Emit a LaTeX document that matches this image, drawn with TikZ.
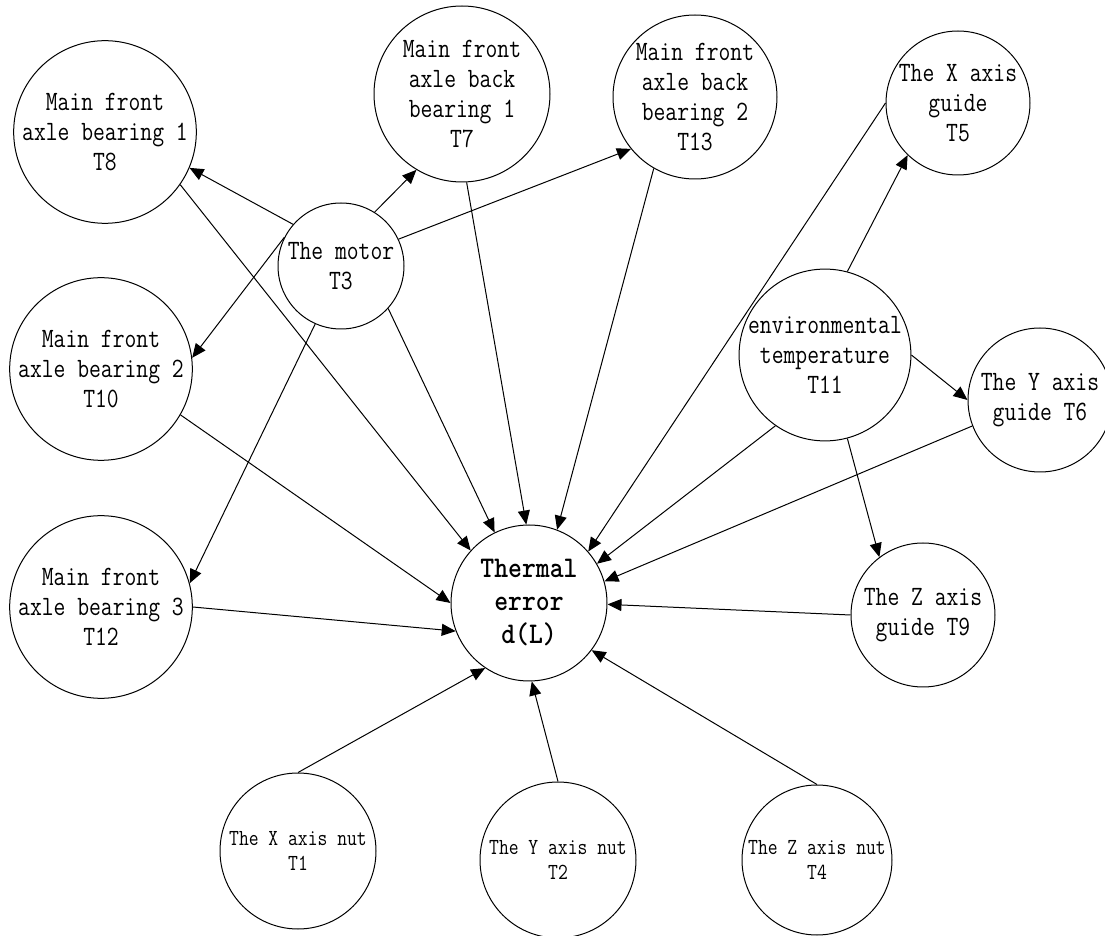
\documentclass[tikz,border=0pt]{standalone}
\usepackage{fontspec}
\usetikzlibrary{arrows.meta}
\newfontfamily\simfont{Latin Modern Mono}[FakeStretch=0.82]
\newfontfamily\simsmall{Latin Modern Mono}[FakeStretch=0.83]
\newfontfamily\simbold{Latin Modern Mono Light}[FakeStretch=0.88]

\begin{document}
\begin{tikzpicture}[x=0.5pt,y=-0.5pt,
          sensor/.style={draw,circle,inner sep=0pt,align=center,line width=0.5pt,
            font=\simfont\fontsize{14}{15}\selectfont},
          nut/.style={sensor,font=\simsmall\fontsize{11.5}{12.5}\selectfont},
          link/.style={line width=0.5pt,-{Triangle[length=7pt,width=6pt]}}]
          \useasboundingbox (0,0) rectangle (1105,936);
          % sources
          \node[sensor,minimum size=90pt] (T8) at (105,132) {Main front\\axle bearing 1\\T8};
          \node[sensor,minimum size=88pt] (T7) at (462,94) {Main front\\axle back\\bearing 1\\T7};
          \node[sensor,minimum size=82pt] (T13) at (695,97) {Main front\\axle back\\bearing 2\\T13};
          \node[sensor,minimum size=72pt] (T5) at (958,103) {The X axis\\guide\\T5};
          \node[sensor,minimum size=63pt] (T3) at (341,266) {The motor\\T3};
          \node[sensor,minimum size=90pt] (T10) at (101,369) {Main front\\axle bearing 2\\T10};
          \node[sensor,minimum size=84pt] (T11) at (825,355) {environmental\\temperature\\T11};
          \node[sensor,minimum size=72pt] (T6) at (1040,400) {The Y axis\\guide T6};
          \node[sensor,minimum size=90pt] (T12) at (101,607) {Main front\\axle bearing 3\\T12};
          \node[sensor,minimum size=72pt] (T9) at (923,615) {The Z axis\\guide T9};
          \node[nut,minimum size=78pt] (T1) at (298,851) {The X axis nut\\T1};
          \node[nut,minimum size=78pt] (T2) at (558,860) {The Y axis nut\\T2};
          \node[nut,minimum size=75pt] (T4) at (817,860) {The Z axis nut\\T4};
          % target
          \node[sensor,minimum size=78pt,font=\simbold\bfseries\fontsize{15}{16.5}\selectfont] (E) at (529,603) {Thermal\\error\\d(L)};
          % motor
          \draw[link] (T3.139) -- (T8.-23);
          \draw[link] (T3.58) -- (T7.-121);
          \draw[link] (T3.25) -- (T13.-141);
          \draw[link] (T3.153) -- (T10.7);
          \draw[link] (T3.-114) -- (T12.15);
          \draw[link] (T3.-42) -- (E.116);
          % environment
          \draw[link] (T11.75) -- (T5.-134);
          \draw[link] (T11.0) -- (T6.180);
          \draw[link] (T11.-75) -- (T9.127);
          \draw[link] (T11.-125) -- (E.30);
          % into the error
          \draw[link] (T8.-35) -- (E.138);
          \draw[link] (T7.-87) -- (E.92);
          \draw[link] (T13.-120) -- (E.69);
          \draw[link] (T5.180) -- (E.41);
          \draw[link] (T6.-159) -- (E.16);
          \draw[link] (T9.180) -- (E.-1);
          \draw[link] (T10.-30) -- (E.180);
          \draw[link] (T12.0) -- (E.-159);
          \draw[link] (T1.90) -- (E.-124);
          \draw[link] (T2.90) -- (E.-88);
          \draw[link] (T4.90) -- (E.-37);
        \end{tikzpicture}
\end{document}
